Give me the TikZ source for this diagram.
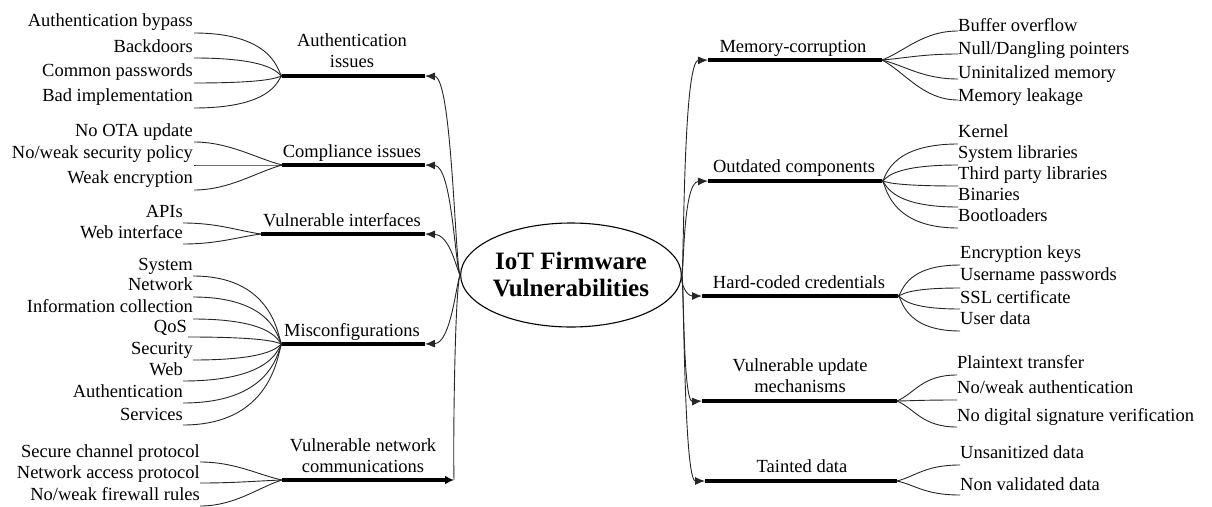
\documentclass[tikz,border=0pt]{standalone}
\usepackage{fontspec}
\setmainfont{Liberation Serif}
\usetikzlibrary{arrows.meta,shapes.geometric,calc}
\newcommand\mmBraceL[2]{\draw[twig] (#1) .. controls ($(#2|-#1)+(-4,0)$) and ($(#2)+(-4,0)$) .. (#2);}
\newcommand\mmSL[2]{\draw[twig] (#1) .. controls ($(#1)+(35,0)$) and ($(#2)!0.3!(#1)$) .. (#2);}
\newcommand\mmBraceR[2]{\draw[twig] (#2) .. controls ($(#2)+(4,0)$) and ($(#2|-#1)+(4,0)$) .. (#1);}
\newcommand\mmSR[2]{\draw[twig] (#2) .. controls ($(#2)!0.3!(#1)+(0,{0.4*(\mmdy)})$) and ($(#1)+(-35,0)$) .. (#1);}
\def\mmdy{0}
\begin{document}
\begin{tikzpicture}[x=1pt,y=-1pt,
  every node/.style={inner sep=0pt, font=\fontsize{18.5}{21}\selectfont},
  leafL/.style={anchor=base east},
  leafR/.style={anchor=base west},
  lbl/.style={anchor=south, align=center, text depth=0pt},
  bar/.style={line width=4.5pt},
  twig/.style={line width=0.9pt, draw=black!85},
  conn/.style={line width=0.9pt, draw=black!85, -{Latex[length=10pt,width=8pt]}},
]
\useasboundingbox (0,0) rectangle (1212,506);

% centre
\node[draw, ellipse, line width=1.1pt, minimum width=197pt, minimum height=104pt,
      align=center, font=\fontsize{25}{27}\selectfont\bfseries] (E) at (571,275)
      {IoT Firmware\\Vulnerabilities};

% ---------- A: Authentication issues
\coordinate (ha) at (282,76); \coordinate (ta) at (425,76);
\draw[bar] (ha) -- (ta);
\node[lbl] (la) at (352,68) {Authentication\\issues};
\node[leafL] (a1) at (193,27) {Authentication bypass}; \coordinate (a1e) at (194,33);
\node[leafL] (a2) at (193,52) {Backdoors};             \coordinate (a2e) at (194,58);
\node[leafL] (a3) at (193,76) {Common passwords};      \coordinate (a3e) at (194,83);
\node[leafL] (a4) at (193,101) {Bad implementation};   \coordinate (a4e) at (194,108);
\foreach \l in {a1e,a2e,a3e,a4e} {\mmBraceL{\l}{ha}}

% ---------- B: Compliance issues
\coordinate (hb) at (282,165); \coordinate (tb) at (425,165);
\draw[bar] (hb) -- (tb);
\node[lbl] (lb) at (352,158) {Compliance issues};
\node[leafL] (b1) at (193,136) {No OTA update};            \coordinate (b1e) at (194,142);
\node[leafL] (b2) at (193,158) {No/weak security policy};  \coordinate (b2e) at (194,165);
\node[leafL] (b3) at (193,183) {Weak encryption};          \coordinate (b3e) at (194,190);
\foreach \l in {b1e,b2e,b3e} {\mmSL{\l}{hb}}

% ---------- C: Vulnerable interfaces
\coordinate (hc) at (261,234); \coordinate (tc) at (425,234);
\draw[bar] (hc) -- (tc);
\node[lbl] (lc) at (342,227) {Vulnerable interfaces};
\node[leafL] (c1) at (183,217) {APIs};           \coordinate (c1e) at (183,223);
\node[leafL] (c2) at (183,238) {Web interface};  \coordinate (c2e) at (183,244);
\foreach \l in {c1e,c2e} {\mmSL{\l}{hc}}

% ---------- D: Misconfigurations
\coordinate (hd) at (282,344); \coordinate (td) at (425,344);
\draw[bar] (hd) -- (td);
\node[lbl] (ld) at (352,337) {Misconfigurations};
\node[leafL] (d1) at (193,270) {System};                 \coordinate (d1e) at (193,276);
\node[leafL] (d2) at (193,290) {Network};                \coordinate (d2e) at (193,297);
\node[leafL] (d3) at (193,312) {Information collection}; \coordinate (d3e) at (193,319);
\node[leafL] (d4) at (187,332) {QoS};                    \coordinate (d4e) at (188,337);
\node[leafL] (d5) at (193,354) {Security};               \coordinate (d5e) at (193,360);
\node[leafL] (d6) at (183,375) {Web};                    \coordinate (d6e) at (183,381);
\node[leafL] (d7) at (183,397) {Authentication};         \coordinate (d7e) at (183,403);
\node[leafL] (d8) at (183,420) {Services};               \coordinate (d8e) at (183,425);
\foreach \l in {d1e,d2e,d3e,d4e,d5e,d6e,d7e,d8e} {\mmBraceL{\l}{hd}}

% ---------- E: Vulnerable network communications
\coordinate (he) at (282,480); \coordinate (te) at (454,480);
\draw[bar, -{Latex[length=9pt,width=9pt]}] (he) -- (te);
\node[lbl] (le) at (363,473) {Vulnerable network\\communications};
\node[leafL] (e1) at (200,457) {Secure channel protocol};  \coordinate (e1e) at (200,462);
\node[leafL] (e2) at (200,478) {Network access protocol};  \coordinate (e2e) at (200,483);
\node[leafL] (e3) at (200,500) {No/weak firewall rules};   \coordinate (e3e) at (200,506);
\foreach \l in {e1e,e2e,e3e} {\mmSL{\l}{he}}

% ---------- F: Memory-corruption
\coordinate (tf) at (708,60); \coordinate (hf) at (882,60);
\draw[bar] (tf) -- (hf);
\node[lbl] (lf) at (793,53) {Memory-corruption};
\node[leafR] (f1) at (958,31) {Buffer overflow};         \coordinate (f1e) at (958,31);
\node[leafR] (f2) at (958,54) {Null/Dangling pointers};  \coordinate (f2e) at (958,54);
\node[leafR] (f3) at (958,78) {Uninitalized memory};     \coordinate (f3e) at (958,79);
\node[leafR] (f4) at (958,101) {Memory leakage};         \coordinate (f4e) at (958,100);
\foreach \l in {f1e,f2e,f3e,f4e} {\mmSR{\l}{hf}}

% ---------- G: Outdated components
\coordinate (tg) at (708,181); \coordinate (hg) at (882,181);
\draw[bar] (tg) -- (hg);
\node[lbl] (lg) at (794,173) {Outdated components};
\node[leafR] (g1) at (958,137) {Kernel};                 \coordinate (g1e) at (958,144);
\node[leafR] (g2) at (958,158) {System libraries};       \coordinate (g2e) at (958,165);
\node[leafR] (g3) at (958,179) {Third party libraries};  \coordinate (g3e) at (958,186);
\node[leafR] (g4) at (958,200) {Binaries};               \coordinate (g4e) at (958,207);
\node[leafR] (g5) at (958,221) {Bootloaders};            \coordinate (g5e) at (958,228);
\foreach \l in {g1e,g2e,g3e,g4e,g5e} {\mmBraceR{\l}{hg}}

% ---------- H: Hard-coded credentials
\coordinate (th) at (702,296); \coordinate (hh) at (898,296);
\draw[bar] (th) -- (hh);
\node[lbl] (lh) at (799,289) {Hard-coded credentials};
\node[leafR] (h1) at (960,258) {Encryption keys};     \coordinate (h1e) at (960,265);
\node[leafR] (h2) at (960,280) {Username passwords};  \coordinate (h2e) at (960,288);
\node[leafR] (h3) at (960,303) {SSL certificate};     \coordinate (h3e) at (960,309);
\node[leafR] (h4) at (960,324) {User data};           \coordinate (h4e) at (960,331);
\foreach \l in {h1e,h2e,h3e,h4e} {\mmBraceR{\l}{hh}}

% ---------- I: Vulnerable update mechanisms
\coordinate (ti) at (702,401); \coordinate (hi) at (897,401);
\draw[bar] (ti) -- (hi);
\node[lbl] (li) at (800,393) {Vulnerable update\\mechanisms};
\node[leafR] (i1) at (957,368) {Plaintext transfer};                \coordinate (i1e) at (957,375);
\node[leafR] (i2) at (957,393) {No/weak authentication};            \coordinate (i2e) at (957,400);
\node[leafR] (i3) at (957,421) {No digital signature verification}; \coordinate (i3e) at (957,427);
\foreach \l in {i1e,i2e,i3e} {\mmSR{\l}{hi}}

% ---------- J: Tainted data
\coordinate (tj) at (705,481); \coordinate (hj) at (897,481);
\draw[bar] (tj) -- (hj);
\node[lbl] (lj) at (802,473) {Tainted data};
\node[leafR] (j1) at (960,458) {Unsanitized data};    \coordinate (j1e) at (960,465);
\node[leafR] (j2) at (960,490) {Non validated data};  \coordinate (j2e) at (960,495);
\foreach \l in {j1e,j2e} {\mmSR{\l}{hj}}

% ---------- connectors from the centre
\draw[conn] (E.west) .. controls (455,264) and (452,77) .. (ta);
\draw[conn] (E.west) .. controls (455,266) and (452,166) .. (tb);
\draw[conn] (E.west) .. controls (456,268) and (450,235) .. (tc);
\draw[conn] (E.west) .. controls (456,284) and (451,343) .. (td);
\draw[twig] (E.west) .. controls (455,286) and (453,440) .. (te);
\draw[conn] (E.east) .. controls (684,268) and (683,61) .. (tf);
\draw[conn] (E.east) .. controls (684,270) and (683,182) .. (tg);
\draw[conn] (E.east) .. controls (680,282) and (686,296) .. (th);
\draw[conn] (E.east) .. controls (684,284) and (683,402) .. (ti);
\draw[conn] (E.east) .. controls (684,286) and (684,481) .. (tj);
\end{tikzpicture}
\end{document}
